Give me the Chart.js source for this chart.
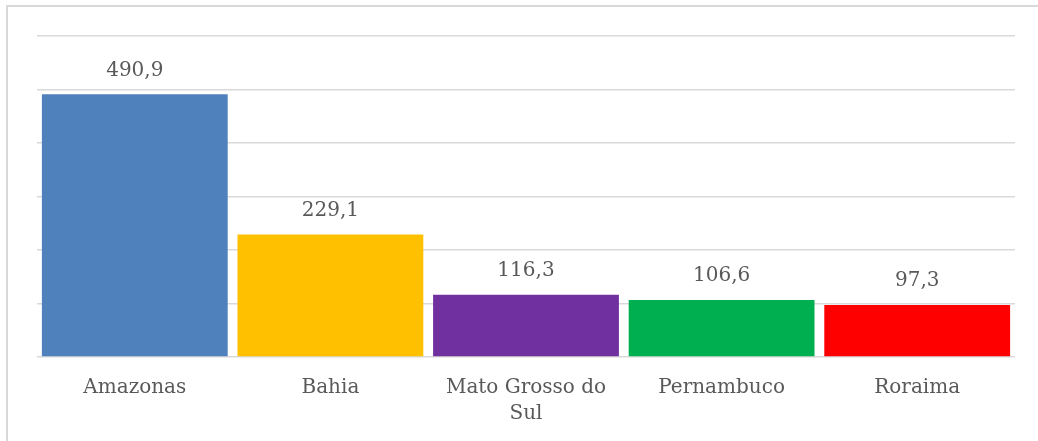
<!DOCTYPE html>
<html>
<head>
<meta charset="utf-8">
<script src="https://cdn.jsdelivr.net/npm/chart.js@4"></script>
<style>
  html, body { margin: 0; padding: 0; background: #fff; }
  #frame { position: absolute; left: 6px; top: 5px; width: 1060px; height: 460px; border: 2px solid #d9d9d9; }
  #wrap { position: absolute; left: 0; top: 0; width: 1038px; height: 441px; }
</style>
</head>
<body>
<div id="frame"></div>
<div id="wrap"><canvas id="chart" width="1038" height="441"></canvas></div>
<script>
const categories = ['Amazonas', 'Bahia', ['Mato Grosso do', 'Sul'], 'Pernambuco', 'Roraima'];
const values = [490.9, 229.1, 116.3, 106.6, 97.3];
const barColors = ['#4f81bd', '#ffc000', '#7030a0', '#00b050', '#ff0000'];
const yTicks = [0, 100, 200, 300, 400, 500, 600];

const FONT = "'DejaVu Serif', serif";
const TEXT = '#595959';

// value labels above each bar
const valueLabels = {
  id: 'valueLabels',
  afterDatasetsDraw(chart) {
    const ctx = chart.ctx;
    const meta = chart.getDatasetMeta(0);
    ctx.save();
    ctx.font = '20px ' + FONT;
    ctx.fillStyle = TEXT;
    ctx.textAlign = 'center';
    ctx.textBaseline = 'middle';
    meta.data.forEach((bar, i) => {
      ctx.fillText(values[i].toFixed(1).replace('.', ','), bar.x, bar.y - 24);
    });
    ctx.restore();
  }
};

new Chart(document.getElementById('chart'), {
  type: 'bar',
  data: {
    labels: categories,
    datasets: [{
      data: values,
      backgroundColor: barColors,
      borderWidth: 0,
      categoryPercentage: 1,
      barPercentage: 0.95,
    }],
  },
  options: {
    responsive: false,
    animation: false,
    layout: { padding: { left: 37, right: 23, top: 36, bottom: 0 } },
    plugins: { legend: { display: false }, tooltip: { enabled: false } },
    scales: {
      x: {
        grid: { display: false, drawTicks: false },
        border: { display: false },
        ticks: { color: TEXT, font: { family: FONT, size: 20, lineHeight: 1.3 }, padding: 18, maxRotation: 0 },
        afterFit(s) { s.height = 84; },
      },
      y: {
        min: yTicks[0],
        max: yTicks[yTicks.length - 1],
        afterBuildTicks(s) { s.ticks = yTicks.map(v => ({ value: v })); },
        ticks: { display: false },
        grid: { color: '#d9d9d9', lineWidth: 1.5, drawTicks: false },
        border: { display: false },
        afterFit(s) { s.width = 0; },
      },
    },
  },
  plugins: [valueLabels],
});
</script>
</body>
</html>
